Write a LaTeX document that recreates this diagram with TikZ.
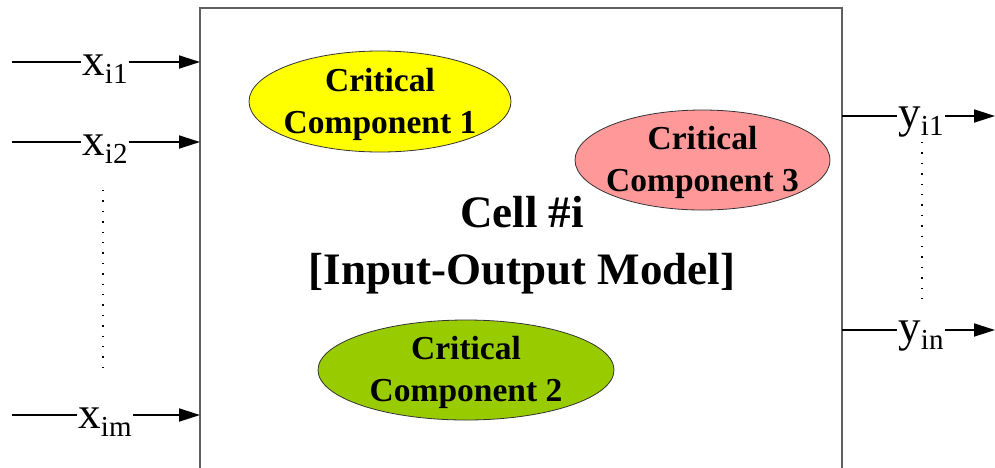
\documentclass[tikz,border=0pt]{standalone}
\usepackage{fontspec}
\setmainfont{Liberation Serif}
\usetikzlibrary{arrows.meta,shapes.geometric}
\definecolor{cyel}{HTML}{FFFF00}
\definecolor{cpink}{HTML}{FF9999}
\definecolor{cgreen}{HTML}{99CC00}
\definecolor{boxgray}{HTML}{606060}
\newcommand{\lbl}[2]{\fontsize{45}{45}\selectfont #1\raisebox{-8pt}{\fontsize{29}{29}\selectfont #2}}
\tikzset{
  compshape/.style={draw=black!80, line width=0.8pt},
  comptext/.style={inner sep=0pt, align=center, font=\fontsize{33.5}{42}\selectfont\bfseries},
  io/.style={anchor=base, inner sep=1.5pt},
  wire/.style={line width=1.8pt},
  arr/.style={line width=1.8pt, -{Triangle[length=21pt,width=13pt]}},
  dotline/.style={line width=1.4pt, dash pattern=on 1.4pt off 9pt}
}
\begin{document}
\begin{tikzpicture}[x=1pt,y=-1pt]
\useasboundingbox (0,0) rectangle (995,467);
% cell box (open at bottom)
\coordinate (bl) at (200,475);
\coordinate (tl) at (200,8);
\coordinate (tr) at (842,8);
\coordinate (br) at (842,475);
\draw[boxgray, line width=1.6pt] (bl) -- (tl) -- (tr) -- (br);
% title
\node[font=\fontsize{45}{57}\selectfont\bfseries, align=center] (title) at (522,245) {Cell \#i\\{}{[}Input-Output Model{]}};
% components
\coordinate (e1) at (380,101.5);
\coordinate (e3) at (702.5,160);
\coordinate (e2) at (466,370);
\draw[compshape, fill=cyel] (e1) ellipse [x radius=131pt, y radius=50.5pt];
\draw[compshape, fill=cpink] (e3) ellipse [x radius=127.5pt, y radius=50pt];
\draw[compshape, fill=cgreen] (e2) ellipse [x radius=148pt, y radius=50pt];
\node[comptext] (c1) at ([yshift=-2.5pt]e1) {Critical\\Component 1};
\node[comptext] (c3) at ([yshift=-2.5pt]e3) {Critical\\Component 3};
\node[comptext] (c2) at ([yshift=-2.5pt]e2) {Critical\\Component 2};
% inputs
\foreach \n/\y/\s in {1/62/i1, 2/142/i2, 3/415/im}{
  \coordinate (xs\n) at (12,\y);
  \coordinate (xe\n) at (200,\y);
  \node[io] (xl\n) at (105,\y+13) {\lbl{x}{\s}};
  \draw[wire] (xs\n) -- (xs\n -| xl\n.west);
  \draw[arr] (xs\n -| xl\n.east) -- (xe\n);
}
% outputs
\foreach \n/\y/\s in {1/116/i1, 2/330/in}{
  \coordinate (ys\n) at (842,\y);
  \coordinate (ye\n) at (995,\y);
  \node[io] (yl\n) at (921,\y+11) {\lbl{y}{\s}};
  \draw[wire] (ys\n) -- (ys\n -| yl\n.west);
  \draw[arr] (ys\n -| yl\n.east) -- (ye\n);
}
% dotted continuation marks
\coordinate (ld1) at (103,190);
\coordinate (ld2) at (103,376);
\coordinate (rd1) at (922,142);
\coordinate (rd2) at (922,302);
\draw[dotline] (ld1) -- (ld2);
\draw[dotline] (rd1) -- (rd2);
\end{tikzpicture}
\end{document}
